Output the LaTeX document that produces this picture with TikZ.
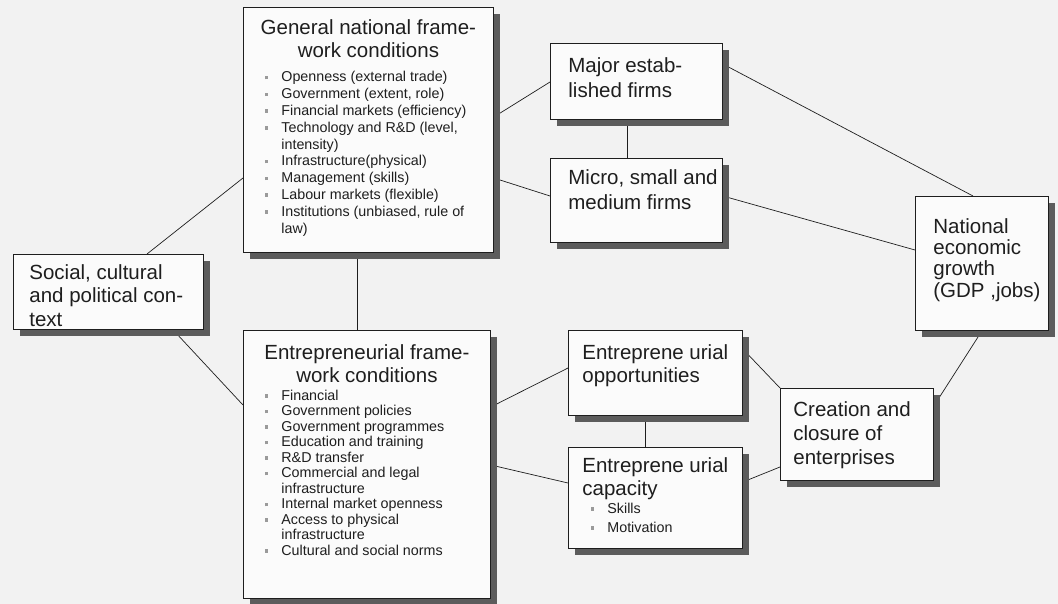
\documentclass[tikz,border=0pt]{standalone}
\usepackage{fontspec}
\setmainfont{Liberation Sans}
\usetikzlibrary{shadows}

\definecolor{paper}{HTML}{F2F2F2}
\definecolor{boxfill}{HTML}{FBFBFB}
\definecolor{shade}{HTML}{5C5C5C}
\definecolor{ink}{HTML}{1E1E1E}
\definecolor{dotgray}{HTML}{9A9A9A}

\pgfdeclarelayer{sheet}
\pgfdeclarelayer{background}
\pgfsetlayers{sheet,background,main}

% heading and list type
\newcommand\headfont[1]{\fontsize{20.5}{#1}\selectfont}
\newcommand\listfont[1]{\fontsize{14.3}{#1}\selectfont}
% small grey square bullet hanging left of the text
\newcommand\bul{\par\noindent\llap{\textcolor{dotgray}{\rule[2.5pt]{3pt}{3.5pt}}\hspace{13pt}}}
% fixed-size panel: width, height, contents
\newcommand\panel[3]{\parbox[t][#2][t]{#1}{#3}}

\tikzset{
  box/.style={draw=ink, line width=0.8pt, fill=boxfill, inner sep=0pt,
    anchor=north west, text=ink,
    drop shadow={shadow xshift=7pt, shadow yshift=-7pt, fill=shade, opacity=1}},
  link/.style={draw=ink, line width=0.7pt}
}

\begin{document}
\begin{tikzpicture}[x=1pt, y=-1pt]
\begin{pgfonlayer}{sheet}
  \fill[paper] (0,0) rectangle (1058,604);
\end{pgfonlayer}
\useasboundingbox (0,0) rectangle (1058,604);

\node[box] (gnfc) at (243,7) {\panel{250pt}{245pt}{%
  \headfont{23.5}\centering\rule{0pt}{27pt}General national frame-\\work conditions\par
  \listfont{16.8}\raggedright\leftskip=38pt\vspace{7.2pt}%
  \bul Openness (external trade)
  \bul Government (extent, role)
  \bul Financial markets (efficiency)
  \bul Technology and R\&D (level,\\intensity)
  \bul Infrastructure(physical)
  \bul Management (skills)
  \bul Labour markets (flexible)
  \bul Institutions (unbiased, rule of\\law)\par}};

\node[box] (efc) at (243,330) {\panel{247pt}{268pt}{%
  \headfont{23.5}\centering\rule{0pt}{29pt}Entrepreneurial frame-\\work conditions\par
  \listfont{15.5}\raggedright\leftskip=38pt\vspace{2pt}%
  \bul Financial
  \bul Government policies
  \bul Government programmes
  \bul Education and training
  \bul R\&D transfer
  \bul Commercial and legal\\infrastructure
  \bul Internal market openness
  \bul Access to physical\\infrastructure
  \bul Cultural and social norms\par}};

\node[box] (soc) at (13,254) {\panel{190pt}{75pt}{%
  \headfont{23.5}\raggedright\leftskip=16pt\rule{0pt}{25pt}Social, cultural\\and political con-\\text\par}};

\node[box] (maj) at (550,43) {\panel{172pt}{76pt}{%
  \headfont{25}\raggedright\leftskip=18pt\rule{0pt}{29pt}Major estab-\\lished firms\par}};

\node[box] (mic) at (550,158) {\panel{172pt}{84pt}{%
  \headfont{25}\raggedright\leftskip=18pt\rule{0pt}{26pt}Micro, small and\\medium firms\par}};

\node[box] (opp) at (568,330) {\panel{174pt}{85pt}{%
  \headfont{23.5}\raggedright\leftskip=14pt\rule{0pt}{29pt}Entreprene urial\\opportunities\par}};

\node[box] (cap) at (568,447) {\panel{174pt}{101pt}{%
  \headfont{23.5}\raggedright\leftskip=14pt\rule{0pt}{25pt}Entreprene urial\\capacity\par
  \listfont{19}\leftskip=39pt\vspace{-1.5pt}%
  \bul Skills
  \bul Motivation\par}};

\node[box] (nat) at (915,196) {\panel{133pt}{134pt}{%
  \headfont{21.3}\raggedright\leftskip=18pt\rule{0pt}{37pt}National\\economic\\growth\\(GDP ,jobs)\par}};

\node[box] (cre) at (780,388) {\panel{153pt}{92pt}{%
  \headfont{24}\raggedright\leftskip=13pt\rule{0pt}{28pt}Creation and\\closure of\\enterprises\par}};

\begin{pgfonlayer}{background}
  \draw[link] ([xshift=134pt]soc.north west) -- ([yshift=-171pt]gnfc.north west);
  \draw[link] ([xshift=160pt]soc.south west) -- ([yshift=-75pt]efc.north west);
  \draw[link] ([xshift=114pt]gnfc.south west) -- ([xshift=114pt]efc.north west);
  \draw[link] ([yshift=-110pt]gnfc.north east) -- ([yshift=-39pt]maj.north west);
  \draw[link] ([yshift=-171pt]gnfc.north east) -- ([yshift=-38pt]mic.north west);
  \draw[link] ([xshift=77pt]maj.south west) -- ([xshift=77pt]mic.north west);
  \draw[link] ([yshift=-21pt]maj.north east) -- ([xshift=58pt]nat.north west);
  \draw[link] ([yshift=-38pt]mic.north east) -- ([yshift=-54pt]nat.north west);
  \draw[link] ([yshift=-77pt]efc.north east) -- ([yshift=-38pt]opp.north west);
  \draw[link] ([yshift=-135pt]efc.north east) -- ([yshift=-36pt]cap.north west);
  \draw[link] ([xshift=77pt]opp.south west) -- ([xshift=77pt]cap.north west);
  \draw[link] ([yshift=-19pt]opp.north east) -- (cre.north west);
  \draw[link] ([yshift=-35pt]cap.north east) -- ([yshift=-79pt]cre.north west);
  \draw[link] ([yshift=-18pt]cre.north east) -- ([xshift=67pt]nat.south west);
\end{pgfonlayer}
\end{tikzpicture}
\end{document}
